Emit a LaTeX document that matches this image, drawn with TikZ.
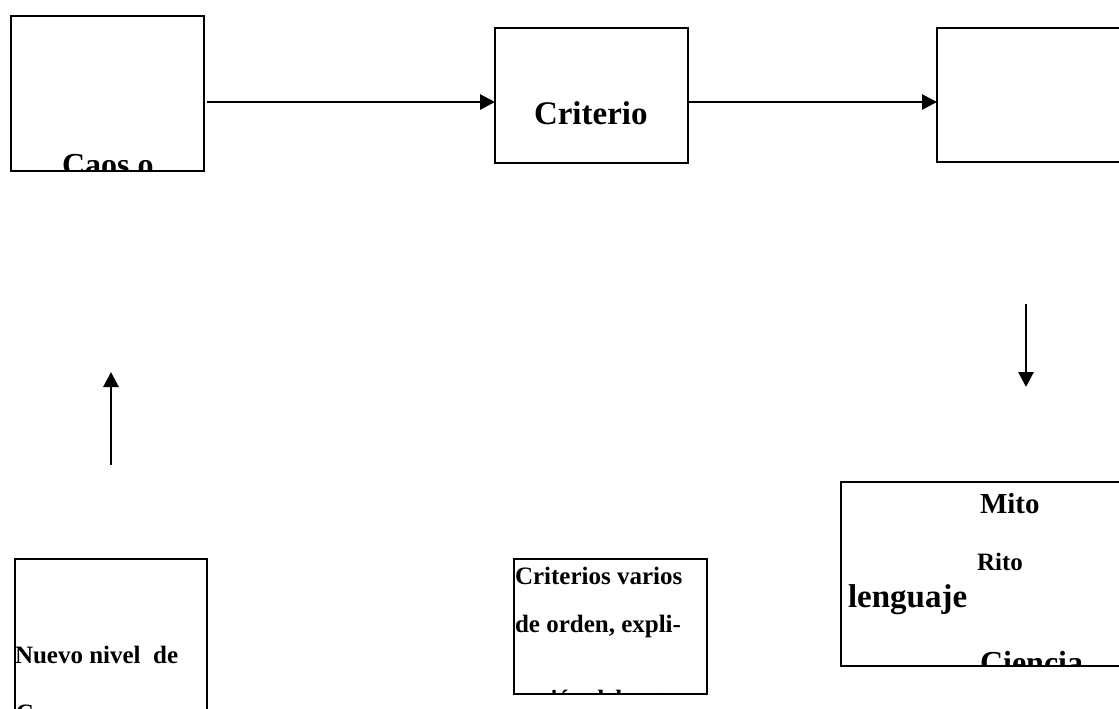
\documentclass[tikz,border=0pt]{standalone}
\usepackage{fontspec}
\setmainfont{Liberation Serif}
\usetikzlibrary{arrows.meta}
\begin{document}
\begin{tikzpicture}[x=1pt,y=-1pt,
  box/.style={draw,line width=2.2pt,inner sep=0pt,outer sep=0pt},
  arr/.style={line width=2.8pt,-{Triangle[length=15pt,width=15pt]}},
  lbl/.style={anchor=base west,inner sep=0pt,outer sep=0pt},
  big/.style={font=\bfseries\fontsize{#1}{#1}\selectfont}]
\clip (0,0) rectangle (1119,709);
\fill[white] (0,0) rectangle (1119,709);
% boxes
\node[box,minimum width=193pt,minimum height=155pt] (caos) at (107.5,93.5) {};
\node[box,minimum width=193pt,minimum height=135pt] (crit) at (591.5,95.5) {};
\node[box,minimum width=193pt,minimum height=134pt] (res) at (1033.5,95) {};
\node[box,minimum width=192pt,minimum height=161pt] (nuevo) at (111,639.5) {};
\node[box,minimum width=193pt,minimum height=135pt] (varios) at (610.5,626.5) {};
\node[box,minimum width=289pt,minimum height=184pt] (mito) at (985.5,574) {};
% texts (clipped by their boxes, as in the reference)
\begin{scope}
  \clip (caos.south west) rectangle (caos.north east);
  \node[lbl,big=32] (tcaos) at (62,175) {Caos o};
\end{scope}
\node[lbl,big=33] (tcrit) at (534,124) {Criterio};
\begin{scope}
  \clip (nuevo.south west) rectangle (nuevo.north east);
  \node[lbl,big=25] (tnuevo1) at (15,663) {Nuevo nivel\ \ de};
  \node[lbl,big=25] (tnuevo2) at (16,721) {Caos};
\end{scope}
\begin{scope}
  \clip (varios.south west) rectangle (varios.north east);
  \node[lbl,big=25] (tvar1) at (515,584) {Criterios varios};
  \node[lbl,big=25] (tvar2) at (515,632) {de orden, expli-};
  \node[lbl,big=25] (tvar3) at (516,707) {cación del entorno};
\end{scope}
\begin{scope}
  \clip (mito.south west) rectangle (mito.north east);
  \node[lbl,big=29] (tmito) at (980,513) {Mito};
  \node[lbl,big=25] (trito) at (977,570) {Rito};
  \node[lbl,big=33] (tleng) at (848,607) {lenguaje};
  \node[lbl,big=32] (tcien) at (980,673) {Ciencia};
\end{scope}
% connectors
\coordinate (a1) at (207,102);
\draw[arr] (a1) -- (a1 -| crit.west);
\draw[arr] (a1 -| crit.east) -- (a1 -| res.west);
\coordinate (d1) at (1026,304);
\coordinate (d2) at (1026,387);
\draw[arr] (d1) -- (d2);
\coordinate (u1) at (111,465);
\coordinate (u2) at (111,372);
\draw[arr] (u1) -- (u2);
\end{tikzpicture}
\end{document}
